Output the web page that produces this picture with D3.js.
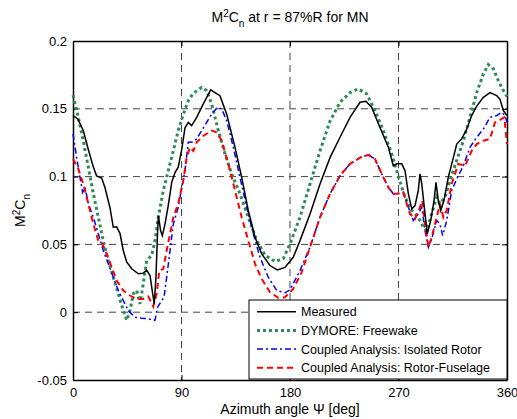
<!DOCTYPE html>
<html>
<head>
<meta charset="utf-8">
<script src="https://cdn.jsdelivr.net/npm/d3@7"></script>
<style>
  body { margin: 0; background: #fff; }
  text { font-family: "Liberation Sans", Arial, sans-serif; fill: #000; }
</style>
</head>
<body>
<div id="content"></div>
<script>
// azimuth [deg], M^2Cn
const measured = [[0,0.145],[4,0.1425],[8.5,0.134],[12.7,0.120],[16.9,0.107],[19.6,0.1005],[23.8,0.099],[26.5,0.092],[30.7,0.077],[33.4,0.0627],[36.2,0.063],[39,0.058],[41.7,0.0455],[44.5,0.037],[48.7,0.032],[54.2,0.0283],[58.3,0.0288],[61.1,0.031],[63.9,0.027],[66.1,0.0136],[67.4,0.0062],[68.8,0.0258],[70.2,0.060],[70.8,0.0713],[72.7,0.060],[74.1,0.0565],[76.3,0.065],[79,0.0786],[81.9,0.0958],[84.6,0.103],[87.3,0.107],[90.2,0.120],[92.9,0.136],[95.6,0.140],[98.4,0.1376],[102.6,0.1437],[108.1,0.1536],[114.2,0.164],[117.8,0.162],[121.9,0.1597],[127.5,0.146],[134.4,0.1216],[139.9,0.0995],[145.4,0.075],[151,0.0553],[156.5,0.043],[163.4,0.0344],[169.5,0.0312],[175.8,0.033],[182.7,0.0405],[188.3,0.0528],[196.6,0.0725],[204.9,0.0946],[213.2,0.114],[221.5,0.129],[229.8,0.1437],[238.1,0.1548],[243,0.1555],[247.8,0.151],[254.7,0.136],[261.6,0.1216],[265.7,0.108],[268.5,0.1094],[272.7,0.1094],[275.4,0.1044],[278.2,0.0873],[281,0.0762],[283.7,0.0786],[286.4,0.0897],[287.8,0.102],[289.3,0.0946],[292,0.0725],[293.9,0.0578],[296.7,0.0676],[299.5,0.0823],[301.1,0.0958],[303,0.0823],[305,0.075],[307.7,0.0823],[311.3,0.0995],[315.5,0.114],[318.3,0.124],[322.4,0.1278],[326.6,0.135],[330.7,0.145],[334.9,0.152],[340.4,0.1585],[345.9,0.162],[351.5,0.1597],[354.2,0.157],[357,0.1487],[360,0.145]];

const dymore = [[0,0.16],[4.4,0.1437],[8.5,0.1265],[12.7,0.107],[16.9,0.0873],[21,0.070],[25.1,0.0528],[29.3,0.038],[33.4,0.0258],[37.6,0.0136],[41.7,0.0012],[44.5,-0.006],[47.3,0.0012],[50,0.0136],[52.8,0.016],[55.6,0.0062],[58.3,0.021],[61.1,0.038],[65.3,0.042],[68,0.0528],[70.8,0.070],[74.9,0.0897],[79,0.1044],[83.2,0.119],[87.3,0.134],[91.5,0.146],[95.6,0.156],[99.8,0.1615],[106.8,0.1658],[110.9,0.1634],[115,0.1536],[120.5,0.134],[126.1,0.1167],[131.6,0.102],[138.5,0.0873],[145.4,0.070],[152.4,0.0528],[159.3,0.042],[167.6,0.0374],[174.4,0.0394],[180,0.0504],[188.3,0.070],[196.6,0.0946],[204.9,0.119],[213.2,0.141],[221.5,0.1548],[229.8,0.162],[236.7,0.1646],[243.6,0.161],[250.5,0.1487],[257.4,0.134],[264.4,0.1167],[269.9,0.100],[275.4,0.0848],[281,0.075],[286.4,0.070],[290.6,0.0627],[293.4,0.060],[297.5,0.0725],[301.7,0.0848],[304.4,0.080],[308.6,0.0848],[312.7,0.097],[318.3,0.112],[323.8,0.1265],[329.3,0.1437],[334.9,0.162],[340.4,0.1757],[344.5,0.1826],[348.7,0.1794],[352.8,0.1708],[357,0.1634],[360,0.159]];

const isolated = [[0,0.1315],[3,0.1142],[5.8,0.0995],[8,0.0884],[10,0.092],[12.7,0.080],[16.9,0.070],[21,0.0578],[25.1,0.0455],[29.3,0.0357],[33.4,0.0258],[37.6,0.016],[41.7,0.0086],[45.9,0.0012],[51.4,-0.0037],[57,-0.0044],[62.5,-0.0049],[68,-0.006],[70.2,0.0037],[73.6,0.0086],[75.5,0.011],[77.7,0.0258],[80.5,0.0455],[83.2,0.065],[87.3,0.0774],[90.2,0.092],[92.9,0.1044],[95.6,0.1253],[99,0.1255],[102.6,0.1278],[106.8,0.134],[110.9,0.140],[115,0.146],[119.7,0.151],[123.3,0.150],[127.5,0.1413],[133,0.1216],[138.5,0.0995],[144.1,0.0774],[149.6,0.0578],[155.1,0.0405],[162,0.0258],[169,0.016],[175.8,0.0143],[180,0.0165],[188.3,0.0307],[196.6,0.048],[204.9,0.070],[213.2,0.0873],[221.5,0.1007],[229.8,0.1094],[238.1,0.114],[245,0.116],[250.5,0.113],[256.1,0.102],[261.6,0.092],[265.7,0.0873],[269.9,0.0877],[274,0.0884],[278.2,0.0774],[282.3,0.0676],[286.4,0.0725],[289.3,0.0774],[292,0.060],[294.8,0.048],[297.5,0.054],[301.7,0.0676],[304.4,0.065],[306.6,0.0565],[310,0.0676],[314.1,0.0897],[318.3,0.0983],[323.8,0.108],[329.3,0.1216],[334.9,0.129],[340.4,0.135],[345.9,0.1437],[351.5,0.145],[355.6,0.1474],[358.3,0.145],[360,0.140]];

const fuselage = [[0,0.113],[4.4,0.1057],[8.5,0.0946],[12.7,0.080],[16.9,0.065],[21,0.0528],[23.8,0.0516],[27.9,0.043],[32.1,0.0332],[36.2,0.0234],[41.7,0.016],[47.3,0.0123],[52.8,0.0098],[58.3,0.0098],[62.5,0.0116],[66.6,0.0042],[69.4,0.0136],[71.6,0.0307],[74.9,0.032],[77.7,0.0455],[80.5,0.0578],[83.2,0.070],[87.3,0.080],[91.5,0.097],[94.3,0.1142],[97,0.1216],[99.8,0.119],[102.6,0.1253],[108.1,0.130],[115,0.134],[119.2,0.1327],[123.3,0.1265],[128.8,0.1094],[134.4,0.0897],[139.9,0.070],[145.4,0.0528],[151,0.0357],[156.5,0.0246],[163.4,0.0147],[170.3,0.0106],[175.8,0.011],[182.7,0.0172],[189.7,0.0295],[196.6,0.048],[204.9,0.070],[213.2,0.0873],[221.5,0.1007],[229.8,0.1094],[238.1,0.114],[245,0.116],[250.5,0.113],[256.1,0.102],[261.6,0.092],[265.7,0.0873],[269.9,0.0873],[274,0.0884],[276.8,0.080],[279.5,0.0725],[283.7,0.0688],[287.8,0.0774],[289.8,0.0823],[292,0.065],[294.8,0.048],[297.5,0.0553],[301.7,0.070],[304.4,0.080],[307.2,0.070],[310,0.075],[314.1,0.0946],[319.6,0.1094],[325.2,0.108],[330.7,0.119],[334.9,0.124],[340.4,0.1265],[345.9,0.1278],[350,0.140],[355.6,0.1425],[357.8,0.1437],[360,0.124]];

const xTicks = [0, 90, 180, 270, 360];
const yTicks = [-0.05, 0, 0.05, 0.1, 0.15, 0.2];
const seriesNames = ["Measured", "DYMORE: Freewake", "Coupled Analysis: Isolated Rotor", "Coupled Analysis: Rotor-Fuselage"];

const W = 517, H = 419;
const margin = { left: 73, right: 10, top: 41, bottom: 39 };
const iW = W - margin.left - margin.right;
const iH = H - margin.top - margin.bottom;

const xScale = d3.scaleLinear().domain([0, 360]).range([0, iW]);
const yScale = d3.scaleLinear().domain([-0.05, 0.2]).range([iH, 0]);

const svg = d3.select("#content").append("svg")
  .attr("width", W).attr("height", H);

const diagram = svg.append("g")
  .attr("transform", "translate(" + margin.left + "," + margin.top + ")");

// dashed grid
diagram.append("g").selectAll("line").data(xTicks.slice(1, -1)).enter()
  .append("line")
  .attr("x1", d => xScale(d)).attr("x2", d => xScale(d))
  .attr("y1", 0).attr("y2", iH)
  .attr("stroke", "#444").attr("stroke-width", 1).attr("stroke-dasharray", "7,5");
diagram.append("g").selectAll("line").data(yTicks.slice(1, -1)).enter()
  .append("line")
  .attr("y1", d => yScale(d)).attr("y2", d => yScale(d))
  .attr("x1", 0).attr("x2", iW)
  .attr("stroke", "#444").attr("stroke-width", 1).attr("stroke-dasharray", "7,5");

// axes, MATLAB style: ticks inside, box all round
const fmtY = d => d === 0 ? "0" : String(+d.toFixed(2));
const xAxis = diagram.append("g").attr("transform", "translate(0," + iH + ")")
  .call(d3.axisBottom(xScale).tickValues(xTicks).tickSizeInner(-5).tickSizeOuter(0).tickPadding(8));
const xAxisTop = diagram.append("g")
  .call(d3.axisTop(xScale).tickValues(xTicks).tickSizeInner(-5).tickSizeOuter(0).tickFormat(""));
const yAxis = diagram.append("g")
  .call(d3.axisLeft(yScale).tickValues(yTicks).tickSizeInner(-5).tickSizeOuter(0).tickPadding(6).tickFormat(fmtY));
const yAxisRight = diagram.append("g").attr("transform", "translate(" + iW + ",0)")
  .call(d3.axisRight(yScale).tickValues(yTicks).tickSizeInner(-5).tickSizeOuter(0).tickFormat(""));
[xAxis, xAxisTop, yAxis, yAxisRight].forEach(a => {
  a.select(".domain").attr("stroke", "#000").attr("stroke-width", 1.5);
  a.selectAll(".tick line").attr("stroke", "#000");
  a.selectAll("text").style("font-size", "13px").style("font-family", "'Liberation Sans', Arial, sans-serif");
});

// curves
const line = d3.line().x(d => xScale(d[0])).y(d => yScale(d[1]));
const styles = [
  { data: measured, color: "#000000", width: 1.5, dash: null },
  { data: dymore,   color: "#2e8b57", width: 3,   dash: "3,3" },
  { data: isolated, color: "#0000ff", width: 1.5, dash: "6,3,2,3" },
  { data: fuselage, color: "#ff0000", width: 2,   dash: "6,4" }
];
const plotOrder = [1, 2, 3, 0];
plotOrder.forEach(i => {
  const s = styles[i];
  diagram.append("path").datum(s.data)
    .attr("d", line)
    .attr("fill", "none")
    .attr("stroke", s.color)
    .attr("stroke-width", s.width)
    .attr("stroke-dasharray", s.dash);
});

// legend
const legend = svg.append("g").attr("transform", "translate(249,300)");
legend.append("rect").attr("width", 258).attr("height", 79)
  .attr("fill", "#fff").attr("stroke", "#000").attr("stroke-width", 1);
seriesNames.forEach((name, i) => {
  const s = styles[i];
  const y = 11.7 + i * 18.7;
  legend.append("line").attr("x1", 8).attr("x2", 47).attr("y1", y).attr("y2", y)
    .attr("stroke", s.color).attr("stroke-width", s.width).attr("stroke-dasharray", s.dash);
  legend.append("text").attr("x", 52).attr("y", y + 4.5)
    .style("font-size", "12.5px").text(name);
});

// title & labels
const title = svg.append("text").attr("x", margin.left + iW / 2).attr("y", 22)
  .attr("text-anchor", "middle").style("font-size", "14px");
title.append("tspan").text("M");
title.append("tspan").attr("dy", -5).style("font-size", "10px").text("2");
title.append("tspan").attr("dy", 5).text("C");
title.append("tspan").attr("dy", 5).style("font-size", "10px").text("n");
title.append("tspan").attr("dy", -5).text(" at r = 87%R for MN");

svg.append("text").attr("x", margin.left + iW / 2).attr("y", 414)
  .attr("text-anchor", "middle").style("font-size", "14px")
  .text("Azimuth angle \u03A8 [deg]");

const ylab = svg.append("text")
  .attr("transform", "translate(25," + (margin.top + iH / 2) + ") rotate(-90)")
  .attr("text-anchor", "middle").style("font-size", "14px");
ylab.append("tspan").text("M");
ylab.append("tspan").attr("dy", -5).style("font-size", "10px").text("2");
ylab.append("tspan").attr("dy", 5).text("C");
ylab.append("tspan").attr("dy", 5).style("font-size", "10px").text("n");
</script>
</body>
</html>
